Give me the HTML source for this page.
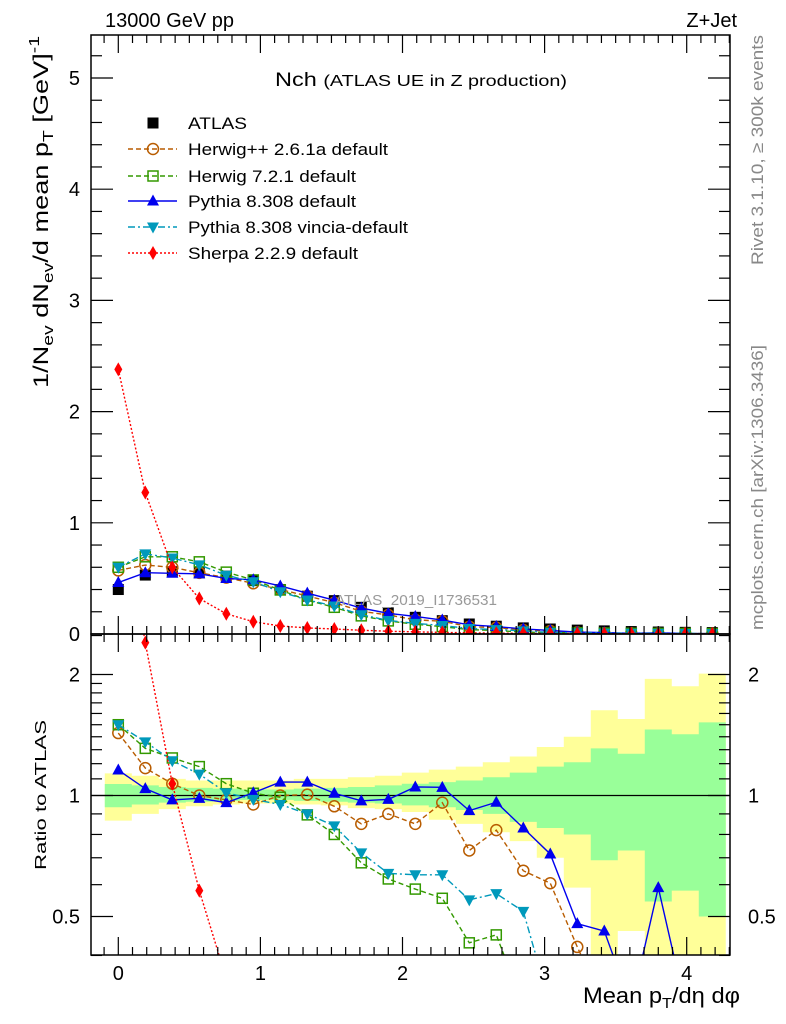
<!DOCTYPE html>
<html><head><meta charset="utf-8"><style>
html,body{margin:0;background:#fff;overflow:hidden;width:786px;height:1024px;position:relative}
svg{display:block;position:absolute;left:0;top:0;font-family:"Liberation Sans",sans-serif}
</style></head><body>
<svg id="c" width="786" height="1024" viewBox="0 0 786 1024" overflow="hidden"></svg>
<script>
const xs=[0,0.19,0.38,0.57,0.76,0.95,1.14,1.33,1.52,1.71,1.9,2.09,2.28,2.47,2.66,2.85,3.04,3.23,3.42,3.61,3.8,3.99,4.18];
const atlas=[0.40,0.53,0.56,0.55,0.52,0.48,0.40,0.34,0.30,0.24,0.19,0.15,0.12,0.09,0.07,0.055,0.045,0.035,0.028,0.022,0.018,0.015,0.013];
const herwigpp=[1.43,1.17,1.07,1.0,0.975,0.95,1.0,1.005,0.94,0.85,0.90,0.85,0.96,0.73,0.82,0.65,0.605,0.42,0.3,0.3,0.3,0.3,0.3];
const herwig7=[1.50,1.31,1.24,1.18,1.07,1.013,0.99,0.895,0.80,0.68,0.62,0.585,0.555,0.43,0.45,0.3,0.3,0.3,0.3,0.3,0.3,0.3,0.3];
const pythia=[1.157,1.04,0.975,0.984,0.96,1.016,1.08,1.08,1.013,0.97,0.978,1.05,1.048,0.917,0.962,0.83,0.715,0.48,0.46,0.3,0.59,0.3,0.3];
const vincia=[1.50,1.36,1.22,1.13,1.016,0.978,0.95,0.90,0.84,0.72,0.64,0.635,0.635,0.55,0.57,0.515,0.3,0.3,0.3,0.3,0.3,0.3,0.3];
const sherpa=[5.95,2.4,1.07,0.58,0.35,0.23,0.18,0.16,0.15,0.14,0.13,0.13,0.12,0.12,0.11,0.11,0.1,0.1,0.1,0.1,0.1,0.1,0.1];
const yelUp=[1.135,1.12,1.10,1.09,1.09,1.09,1.09,1.10,1.10,1.11,1.12,1.14,1.16,1.18,1.21,1.25,1.32,1.40,1.63,1.55,1.95,1.87,2.01];
const yelLo=[0.866,0.90,0.925,0.94,0.95,0.955,0.955,0.95,0.945,0.93,0.925,0.91,0.87,0.85,0.81,0.77,0.70,0.59,0.38,0.46,0.38,0.38,0.38];
const grnUp=[1.068,1.06,1.05,1.045,1.04,1.035,1.035,1.04,1.045,1.05,1.06,1.07,1.08,1.09,1.11,1.14,1.18,1.21,1.31,1.27,1.46,1.42,1.52];
const grnLo=[0.935,0.95,0.96,0.965,0.97,0.975,0.975,0.97,0.965,0.96,0.955,0.945,0.935,0.92,0.90,0.86,0.83,0.80,0.69,0.73,0.545,0.58,0.50];
const yTicksMain=["0","1","2","3","4","5"];
const xTicks=["0","1","2","3","4"];

const NS="http://www.w3.org/2000/svg",svg=document.getElementById('c');
function mk(t,a,p){const e=document.createElementNS(NS,t);for(const k in a)e.setAttribute(k,a[k]);(p||svg).appendChild(e);return e;}
const L=91,R=730,T=35,MB=634,RB=955;
const X=v=>118.3+v*142.1;
const YM=v=>634-v*111.2;
const YR=v=>795.5-121*Math.log2(v);
const hw=0.095;
const defs=mk('defs',{});
const c1=mk('clipPath',{id:'cm'},defs);mk('rect',{x:L,y:T,width:R-L,height:MB-T},c1);
const c2=mk('clipPath',{id:'cr'},defs);mk('rect',{x:L,y:MB,width:R-L,height:RB-MB},c2);
const gm=mk('g',{'clip-path':'url(#cm)'});
const gr=mk('g',{'clip-path':'url(#cr)'});
function band(up,lo,col,name){let d='';xs.forEach((x,i)=>{d+=`M${X(x-hw)},${YR(up[i])}H${X(x+hw)}V${YR(lo[i])}H${X(x-hw)}Z`;});
const p=mk('path',{d:d,fill:col},gr);}
band(yelUp,yelLo,'#ffff99','ratio-band-yellow');band(grnUp,grnLo,'#99ff99','ratio-band-green');
const ul=mk('line',{x1:L,x2:R,y1:YR(1),y2:YR(1),stroke:'#000','stroke-width':1.3},gr);
function marker(g,type,x,y,col){
 if(type==='sq')return mk('rect',{x:x-5.5,y:y-5.5,width:11,height:11,fill:'#000'},g);
 if(type==='circ')return mk('circle',{cx:x,cy:y,r:5.5,fill:'none',stroke:col,'stroke-width':1.5},g);
 if(type==='osq')return mk('rect',{x:x-5,y:y-5,width:10,height:10,fill:'none',stroke:col,'stroke-width':1.5},g);
 if(type==='tri')return mk('path',{d:`M${x},${y-6.5}L${x+6},${y+4.5}L${x-6},${y+4.5}Z`,fill:col},g);
 if(type==='itri')return mk('path',{d:`M${x},${y+6.5}L${x+6},${y-4.5}L${x-6},${y-4.5}Z`,fill:col},g);
 if(type==='dia')return mk('path',{d:`M${x},${y-7}L${x+4},${y}L${x},${y+7}L${x-4},${y}Z`,fill:col},g);
}
const series=[
 {n:'herwigpp',r:herwigpp,c:'#b85c00',m:'circ',dash:'5,3',lbl:'Herwig++ 2.6.1a default'},
 {n:'herwig7',r:herwig7,c:'#339900',m:'osq',dash:'5,3',lbl:'Herwig 7.2.1 default'},
 {n:'pythia',r:pythia,c:'#0000ee',m:'tri',dash:'',lbl:'Pythia 8.308 default'},
 {n:'vincia',r:vincia,c:'#0099bb',m:'itri',dash:'7,3,2,3',lbl:'Pythia 8.308 vincia-default'},
 {n:'sherpa',r:sherpa,c:'#ff0000',m:'dia',dash:'2,2',lbl:'Sherpa 2.2.9 default'}];
xs.forEach((x,i)=>{const e=marker(gm,'sq',X(x),YM(atlas[i]));});
series.forEach(s=>{
 const mv=s.r.map((r,i)=>r*atlas[i]);
 const pm=mk('polyline',{points:xs.map((x,i)=>X(x)+','+YM(mv[i])).join(' '),fill:'none',stroke:s.c,'stroke-width':1.4,'stroke-dasharray':s.dash},gm);
 
 const pr=mk('polyline',{points:xs.map((x,i)=>X(x)+','+YR(s.r[i])).join(' '),fill:'none',stroke:s.c,'stroke-width':1.4,'stroke-dasharray':s.dash},gr);
 
 xs.forEach((x,i)=>{const a=marker(gm,s.m,X(x),YM(mv[i]),s.c);
  const b=marker(gr,s.m,X(x),YR(s.r[i]),s.c);});
});
[[T,MB],[MB,RB]].forEach((f,k)=>{const r=mk('rect',{x:L,y:f[0],width:R-L,height:f[1]-f[0],fill:'none',stroke:'#000','stroke-width':1.5});});
const tg=mk('g',{stroke:'#000','stroke-width':1.2});
for(let v=0;v<=5.3;v+=0.2){const y=YM(v);const maj=Math.abs(v-Math.round(v))<0.01;const l=maj?22:11;
 mk('line',{x1:L,x2:L+l,y1:y,y2:y},tg);mk('line',{x1:R,x2:R-l,y1:y,y2:y},tg);}
for(let v=-0.1;v<=4.35;v+=0.1){const x=X(v);const maj=Math.abs(v-Math.round(v))<0.01;const l=maj?18:8;
 [MB,RB].forEach(b=>mk('line',{x1:x,x2:x,y1:b,y2:b-l},tg));[T,MB].forEach(t=>mk('line',{x1:x,x2:x,y1:t,y2:t+l},tg));}
[0.4,0.5,0.6,0.7,0.8,0.9,1,1.1,1.2,1.3,1.4,1.5,1.6,1.7,1.8,1.9,2,2.5].forEach(v=>{const y=YR(v);const l=[0.5,1,2].includes(v)?22:11;
 mk('line',{x1:L,x2:L+l,y1:y,y2:y},tg);mk('line',{x1:R,x2:R-l,y1:y,y2:y},tg);});
function txt(s,a,name){const e=mk('text',a);e.textContent=s;return e;}
yTicksMain.forEach((s,i)=>txt(s,{x:80,y:YM(+s)+7,'font-size':20,'text-anchor':'end'},'y-tick-label'));
xTicks.forEach(s=>txt(s,{x:X(+s),y:980,'font-size':20,'text-anchor':'middle'},'x-tick-label'));
[['2',2],['1',1],['0.5',0.5]].forEach(p=>{txt(p[0],{x:80,y:YR(p[1])+7,'font-size':20,'text-anchor':'end'},'ratio-tick-label-left');txt(p[0],{x:748,y:YR(p[1])+7,'font-size':20},'ratio-tick-label-right');});
txt('13000 GeV pp',{x:105,y:27,'font-size':20},'energy-label');
txt('Z+Jet',{x:737,y:27,'font-size':20,'text-anchor':'end'},'process-label');
const ti=txt('',{x:275,y:86,'font-size':19,textLength:292,lengthAdjust:'spacingAndGlyphs'},'plot-title');ti.innerHTML='Nch <tspan font-size="16">(ATLAS UE in Z production)</tspan>';
txt('ATLAS_2019_I1736531',{x:335,y:605,'font-size':15,fill:'#999',textLength:162,lengthAdjust:'spacingAndGlyphs'},'analysis-watermark');
txt('Rivet 3.1.10, \u2265 300k events',{x:0,y:0,'font-size':17,fill:'#888','text-anchor':'end',textLength:230,lengthAdjust:'spacingAndGlyphs',transform:'translate(763,35) rotate(-90)'},'rivet-label');
txt('mcplots.cern.ch [arXiv:1306.3436]',{x:0,y:0,'font-size':17,fill:'#888','text-anchor':'end',textLength:285,lengthAdjust:'spacingAndGlyphs',transform:'translate(763,345) rotate(-90)'},'mcplots-label');
const yt=txt('',{x:0,y:0,'font-size':21,textLength:352,lengthAdjust:'spacingAndGlyphs',transform:'translate(48,388) rotate(-90)'},'y-axis-title');
yt.innerHTML='1/N<tspan font-size="15" dy="5">ev</tspan><tspan dy="-5"> dN</tspan><tspan font-size="15" dy="5">ev</tspan><tspan dy="-5">/d mean p</tspan><tspan font-size="15" dy="5">T</tspan><tspan dy="-5">  [GeV]</tspan><tspan font-size="15" dy="-9">-1</tspan>';
txt('Ratio to ATLAS',{x:0,y:0,'font-size':16,'text-anchor':'middle',textLength:150,lengthAdjust:'spacingAndGlyphs',transform:'translate(46,795) rotate(-90)'},'ratio-y-axis-title');
const xt=txt('',{x:583,y:1003,'font-size':22,textLength:157,lengthAdjust:'spacingAndGlyphs'},'x-axis-title');
xt.innerHTML='Mean p<tspan font-size="15" dy="5">T</tspan><tspan dy="-5">/d\u03b7 d\u03c6</tspan>';
const lg=mk('g',{});
const ly=[123,149,176,201,227,253];
const lw=[59,200,168,168,220,170];
let m0=marker(lg,'sq',153,ly[0]);
txt('ATLAS',{x:188,y:ly[0]+6,'font-size':17,textLength:lw[0],lengthAdjust:'spacingAndGlyphs'},'legend-entry');
series.forEach((s,i)=>{const y=ly[i+1];const ln=mk('line',{x1:128,x2:177,y1:y,y2:y,stroke:s.c,'stroke-width':1.4,'stroke-dasharray':s.dash},lg);
 
 const mm=marker(lg,s.m,153,y,s.c);
 txt(s.lbl,{x:188,y:y+6,'font-size':17,textLength:lw[i+1],lengthAdjust:'spacingAndGlyphs'},'legend-entry');});
</script>
</body></html>
